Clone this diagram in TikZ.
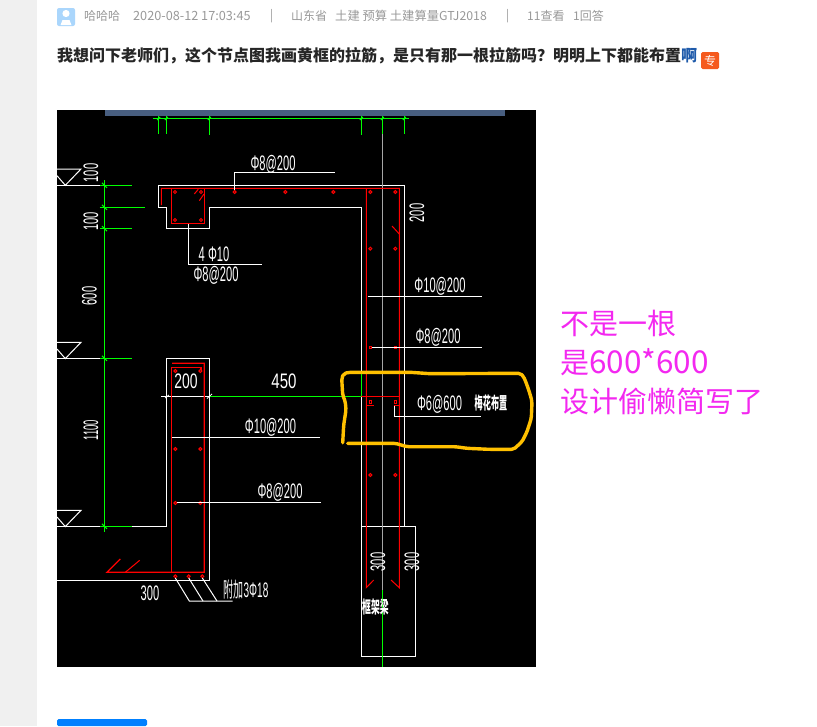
\documentclass[tikz,border=0pt]{standalone}
\usepackage{fontspec}
\setmainfont{Liberation Sans}
\newfontfamily\cjk{Noto Sans CJK SC}
\definecolor{cadgreen}{RGB}{0,255,0}
\definecolor{cadred}{RGB}{255,0,0}
\definecolor{stripblue}{RGB}{72,94,128}
\definecolor{penyellow}{RGB}{255,192,0}
\definecolor{penpink}{RGB}{243,40,240}
\definecolor{metagray}{RGB}{153,153,153}
\definecolor{linkblue}{RGB}{30,90,170}
\begin{document}
\begin{tikzpicture}[x=1pt,y=-1pt]
\tikzstyle{metatext}=[anchor=west,inner sep=0pt,text=metagray,font=\cjk\fontsize{12}{12}\selectfont]
\tikzstyle{asktext}=[anchor=west,inner sep=0pt,text=black!85,font=\cjk\bfseries\fontsize{16}{16}\selectfont]
\tikzstyle{pentext}=[anchor=west,inner sep=0pt,text=penpink,font=\cjk\fontsize{29}{29}\selectfont]
\tikzstyle{cadtext}=[inner sep=0pt,text=white,font=\fontsize{21}{21}\selectfont,xscale=.53,transform shape]
\tikzstyle{cadcjk}=[inner sep=0pt,text=white,font=\cjk\bfseries\fontsize{17}{17}\selectfont,xscale=.52,transform shape]
\tikzstyle{whiteline}=[white,line width=1pt]
\tikzstyle{greenline}=[cadgreen,line width=1pt]
\tikzstyle{redline}=[cadred,line width=1pt]
\tikzstyle{redbar}=[cadred,line width=1.3pt]
\tikzstyle{rebar}=[cadred,line width=1pt,fill=black]
\useasboundingbox (0,0) rectangle (817,726);
\fill[white] (0,0) rectangle (817,726);
\fill[black!6] (0,0) rectangle (37,726);
\fill[black] (57,110) rectangle (536,667);
\fill[stripblue] (105,110) rectangle (505,116);
\fill[rounded corners=2pt,fill={rgb,255:red,170;green,214;blue,252}] (57,8) rectangle (75,26);
\fill[white] (66,13.5) circle (3.6);
\fill[white] (60.5,25) -- (62.5,20) -- (69.5,20) -- (71.5,25) -- cycle;
\node[metatext] (user) at (84,16) {哈哈哈};
\node[metatext,font=\cjk\fontsize{12.7}{12.7}\selectfont] (stamp) at (133,16) {2020-08-12 17:03:45};
\node[metatext] (sepa) at (270,16) {|};
\node[metatext] (region) at (291,16) {山东省};
\node[metatext,font=\cjk\fontsize{12.3}{12.3}\selectfont] (tags) at (335,16) {土建 预算 土建算量GTJ2018};
\node[metatext] (sepb) at (506,16) {|};
\node[metatext] (views) at (527,16) {11查看};
\node[metatext] (answers) at (573,16) {1回答};
\node[asktext] (ask) at (57,56) {我想问下老师们，这个节点图我画黄框的拉筋，是只有那一根拉筋吗？明明上下都能布置\textcolor{linkblue}{啊}};
\node[fill={rgb,255:red,245;green,90;blue,30},rounded corners=1.5pt,text=white,inner sep=0pt,minimum width=18pt,minimum height=17pt,font=\cjk\fontsize{12}{12}\selectfont] (badge) at (710,60.5) {专};
\draw[greenline] (153,118.5) -- (409,118.5);
\foreach \xa/\yb in {158.7/134,166.3/134,209.3/135,361.3/135,404.3/134}
  \draw[greenline] (\xa,116) -- (\xa,\yb);
\foreach \xa in {158.7,166.3,209.3,361.3,382.3,404.3}
  \draw[greenline] (\xa-1.5,120) -- (\xa+1.5,117);
\draw[greenline] (382.3,116) -- (382.3,134);
\draw[greenline] (104.3,180) -- (104.3,531.7);
\draw[greenline] (100,185.3) -- (132,185.3);
\draw[greenline] (99.7,207.3) -- (145,207.3);
\draw[greenline] (100,228.7) -- (132,228.7);
\draw[greenline] (100,358.3) -- (132,358.3);
\draw[greenline] (100,526.3) -- (132,526.3);
\foreach \ya in {185.3,207.3,228.7,358.3,526.3}
  \draw[greenline] (102,\ya-2.5) -- (107,\ya+2.5);
\draw[whiteline] (57,185.3) -- (100,185.3);
\draw[whiteline] (57,358.3) -- (100,358.3);
\draw[whiteline] (57,526.3) -- (100,526.3);
\draw[whiteline] (132,526.3) -- (166.7,526.3) -- (166.7,358.3) -- (209.3,358.3) -- (209.3,580.3) -- (57,580.3);
\foreach \ya in {169,342.3,510.3}
  \draw[whiteline] (57,\ya) -- (81,\ya) -- (65.3,\ya+16.3) -- (57,\ya+6.7);
\draw[whiteline] (361.3,374) -- (361.3,207.3) -- (209.3,207.3) -- (209.3,228.7) -- (166.3,228.7) -- (166.3,207.3) -- (158.3,207.3) -- (158.3,185.3) -- (404.3,185.3) -- (404.3,526.3);
\draw[whiteline] (361.3,396.3) -- (361.3,656.3) -- (415.3,656.3) -- (415.3,526.3) -- (361.3,526.3);
\draw[black!35,line width=1pt] (382.3,134) -- (382.3,590);
\draw[greenline] (382.3,590) -- (382.3,667);
\draw[greenline] (361.3,374) -- (361.3,396.3);
\draw[greenline] (210,396.3) -- (361.3,396.3);
\draw[whiteline] (161,396.3) -- (210,396.3);
\draw[white,line width=.8pt] (165,398) -- (169,395);
\draw[white,line width=.8pt] (207,398.5) -- (212,394);
\draw[redline] (361.3,396.3) -- (399.3,396.3);
\draw[redline] (161.3,205) -- (161.3,188.3) -- (399.3,188.3) -- (399.3,587.7) -- (391,580);
\draw[redline] (366.3,188.3) -- (366.3,587.7) -- (373.7,580);
\draw[redline] (366.3,405.3) -- (373.7,405.3);
\draw[redline] (393.7,405.3) -- (399.3,405.3);
\draw[redbar] (171.3,188.3) rectangle (204.3,223.3);
\draw[redline] (194.3,194) -- (198.3,189.3);
\draw[redline] (199.3,200.7) -- (204,194);
\draw[redline] (392,226) -- (399.3,234);
\draw[redbar] (172,363.3) -- (204.3,363.3) -- (204.3,572.3) -- (107,572.3) -- (120.3,559);
\draw[redbar] (201,371) -- (201,367.3) -- (171.3,367.3) -- (171.3,572.3);
\draw[redline] (125.3,572.3) -- (139.7,560.3);
\foreach \xa/\ya in {175/192,201/192,175/220,201/220,234.7/192,285.3/192,333.3/192,370.3/192,395.3/192,370.3/248.7,395.3/248.7,175.3/371,200.3/371,175.3/449,200.3/449,175.3/503,200.3/503,370.3/475,395.3/475,188.7/576.3,175.3/576.3,202.3/576.3}
  \draw[rebar] (\xa,\ya) circle (1.5);
\foreach \xa/\ya in {370.3/347.3,395.3/347.3,370.3/401.7,395.3/401.7}
  \draw[rebar] (\xa-1.3,\ya-1.3) rectangle (\xa+1.3,\ya+1.3);
\draw[whiteline] (234.7,190) -- (234.7,172.3) -- (334.7,172.3);
\draw[whiteline] (188.3,224) -- (188.3,264.3) -- (261.7,264.3);
\draw[whiteline] (367.7,296.3) -- (482,296.3);
\draw[whiteline] (372,347.3) -- (482,347.3);
\draw[whiteline] (394.3,405.7) -- (394.3,416.3) -- (481,416.3);
\draw[whiteline] (172,437.3) -- (320,437.3);
\draw[whiteline] (177,502.3) -- (321,502.3);
\draw[whiteline] (175.3,578) -- (189.3,601) -- (232.7,601);
\draw[whiteline] (188.7,578) -- (203,601);
\draw[whiteline] (202.3,578) -- (217,601);
\node[rotate=90,cadtext] (dimtop) at (91,173) {100};
\node[rotate=90,cadtext] (dimcap) at (91,221.7) {100};
\node[rotate=90,cadtext] (dimwall) at (89.3,296) {600};
\node[rotate=90,cadtext,xscale=.85] (dimlow) at (91,430) {1100};
\node[rotate=90,cadtext] (dimside) at (417,213) {200};
\node[rotate=90,cadtext] (dimbeama) at (378,562) {300};
\node[rotate=90,cadtext] (dimbeamb) at (412,562) {300};
\node[cadtext] (lblroof) at (273,164) {Φ8@200};
\node[cadtext] (lblmain) at (214,254) {4 Φ10};
\node[cadtext] (lblstir) at (216,275) {Φ8@200};
\node[cadtext] (lblouter) at (440,286) {Φ10@200};
\node[cadtext] (lblinner) at (438,337) {Φ8@200};
\node[cadtext] (lbltie) at (439.5,404) {Φ6@600};
\node[cadcjk,xscale=.92] (lblquin) at (491,403) {梅花布置};
\node[cadtext,xscale=1.25] (dimwidth) at (186,381) {200};
\node[cadtext,xscale=1.35] (dimspan) at (284,381) {450};
\node[cadtext] (lbllowa) at (270.5,427) {Φ10@200};
\node[cadtext] (lbllowb) at (280,492) {Φ8@200};
\node[cadtext] (dimfoot) at (150,593) {300};
\node[cadtext,xscale=.9] (lbladd) at (246,590) {\cjk 附加\rmfamily 3Φ18};
\node[cadcjk] (lblbeam) at (375.5,607) {框架梁};
\draw[penyellow,line width=3.4pt,line cap=round,line join=round,rounded corners=2pt]
  (342.7,442.7) -- (343.7,425) -- (346,410) -- (345.3,401.7) -- (342.7,395) -- (341.7,378.3) -- (343.7,373.7) -- (348.7,372.3) -- (410.3,372.3) -- (430.3,373.7) -- (520.3,373.3) -- (523.7,376.7) -- (527,385) -- (530.3,395) -- (532,401.7) -- (531.3,418.3) -- (527,431.7) -- (522,441.7) -- (513.7,449.3) -- (488.7,449.3) -- (467,448.3) -- (455.3,446.7) -- (407,446.7) -- (395.3,443.3) -- (347.7,443.3);
\node[pentext] (notea) at (560,323) {不是一根};
\node[pentext] (noteb) at (560,362) {是{\fontsize{31.5}{31.5}\selectfont 600*600}};
\node[pentext] (notec) at (560,401) {设计偷懒简写了};
\fill[fill={rgb,255:red,0;green,128;blue,255},rounded corners=1.5pt] (57,726) -- (57,719) -- (147,719) -- (147,726) -- cycle;
\end{tikzpicture}
\end{document}
